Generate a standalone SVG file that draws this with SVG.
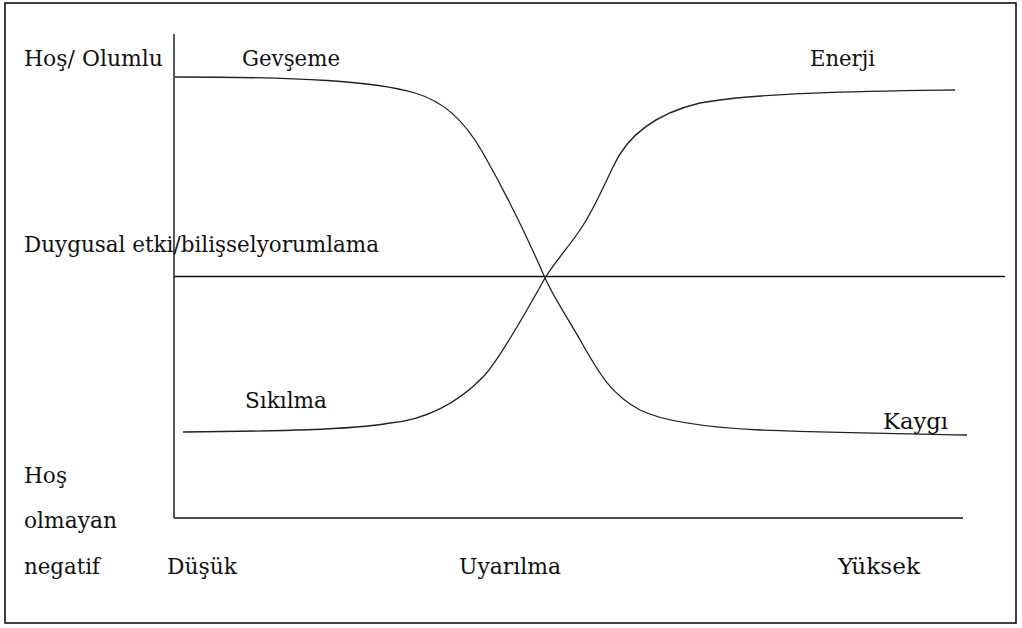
<svg xmlns="http://www.w3.org/2000/svg" width="1022" height="628" viewBox="0 0 1022 628">
<style>
.t{font-family:'DejaVu Serif','Liberation Serif',serif;font-size:23px;fill:#111}
.ln{fill:none;stroke:#111;stroke-width:1.4}
.cv{fill:none;stroke:#222;stroke-width:1.3}
</style>
<rect x="0" y="0" width="1022" height="628" fill="#fff"/>
<rect x="5" y="3" width="1011" height="620" fill="none" stroke="#111" stroke-width="1.6"/>
<g id="axes">
<line class="ln" x1="174" y1="34" x2="174" y2="518"/>
<line class="ln" x1="174" y1="518" x2="963" y2="518"/>
<line class="ln" x1="174" y1="276.5" x2="1005" y2="276.5"/>
</g>
<g id="connectors">
<path id="gevseme-kaygi" class="cv" d="M175,77 C300,77 375,81 415,93 C442,101 463,118 483,153 C500,183 520,220 545,278 C555,300 568,318 583,345 C600,375 612,395 640,410 C660,420 700,427 760,430 C850,433 920,434 967,435"/>
<path id="sikilma-enerji" class="cv" d="M183,432 C280,431 350,430 390,423 C425,420 458,403 483,377 C500,359 530,305 545,278 C555,262 570,245 580,230 C592,213 603,188 613,167 C625,140 650,115 700,103 C760,92 880,91 955,90"/>
</g>
<g id="labels">
<text class="t" x="24" y="66" textLength="139" lengthAdjust="spacingAndGlyphs">Hoş/ Olumlu</text>
<text class="t" x="242" y="66" textLength="98" lengthAdjust="spacingAndGlyphs">Gevşeme</text>
<text class="t" x="810" y="66" textLength="65" lengthAdjust="spacingAndGlyphs">Enerji</text>
<text class="t" x="24" y="252" textLength="355" lengthAdjust="spacingAndGlyphs">Duygusal etki/bilişselyorumlama</text>
<text class="t" x="245" y="408" textLength="82" lengthAdjust="spacingAndGlyphs">Sıkılma</text>
<text class="t" x="883" y="429" textLength="65" lengthAdjust="spacingAndGlyphs">Kaygı</text>
<text class="t" x="24" y="483" textLength="43" lengthAdjust="spacingAndGlyphs">Hoş</text>
<text class="t" x="24" y="528" textLength="93" lengthAdjust="spacingAndGlyphs">olmayan</text>
<text class="t" x="24" y="574" textLength="76" lengthAdjust="spacingAndGlyphs">negatif</text>
<text class="t" x="167" y="574" textLength="70" lengthAdjust="spacingAndGlyphs">Düşük</text>
<text class="t" x="459" y="574" textLength="102" lengthAdjust="spacingAndGlyphs">Uyarılma</text>
<text class="t" x="838" y="574" textLength="82" lengthAdjust="spacingAndGlyphs">Yüksek</text>
</g>
</svg>
